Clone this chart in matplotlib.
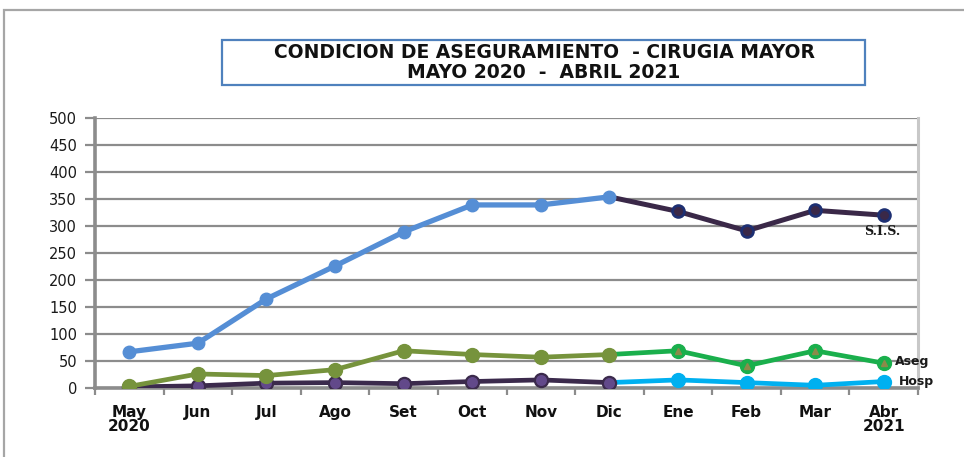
import matplotlib
matplotlib.use("Agg")
import matplotlib.pyplot as plt
from matplotlib.patches import Rectangle

# Monthly counts, May 2020 - Apr 2021
months = ["May\n2020", "Jun", "Jul", "Ago", "Set", "Oct", "Nov", "Dic",
          "Ene", "Feb", "Mar", "Abr\n2021"]
sis = [67, 83, 165, 226, 289, 339, 339, 354, 327, 291, 329, 320]
aseg = [3, 26, 23, 34, 69, 62, 57, 62, 69, 41, 69, 46]
hosp = [2, 4, 9, 10, 8, 12, 15, 10, 15, 10, 5, 12]
series_labels = ["S.I.S.", "Aseg", "Hosp"]
title_lines = ["CONDICION DE ASEGURAMIENTO  - CIRUGIA MAYOR", "MAYO 2020  -  ABRIL 2021"]
yticks = list(range(0, 501, 50))

W, H = 964, 457
fig = plt.figure(figsize=(W / 100, H / 100), dpi=100)
fig.patch.set_facecolor("white")

# outer chart frame
fig.add_artist(Rectangle((4 / W, -0.02), 1.1, 1 - 10 / H + 0.02, transform=fig.transFigure,
                         fill=False, edgecolor="#a6a6a6", linewidth=1.6))

ax = fig.add_axes([95 / W, 1 - 388 / H, (918 - 95) / W, (388 - 118) / H])
x = list(range(len(months)))
split = 7  # Dic: first-half series end here, second-half series start here

# second half (Dic - Abr): lines from Dic, markers from Ene
x2 = x[split:]
ax.plot(x2, sis[split:], color="#3a2848", lw=3.6, zorder=3, solid_capstyle="round")
ax.plot(x2[1:], sis[split + 1:], ls="none", marker="o", ms=8.5, mfc="#3a2848",
        mec="#1d2f72", mew=2, zorder=4)
ax.plot(x2, aseg[split:], color="#1aaf4c", lw=3.4, zorder=3, solid_capstyle="round")
ax.plot(x2[1:], aseg[split + 1:], ls="none", marker="o", ms=10, mfc="#1aaf4c",
        mec="#1aaf4c", zorder=4)
ax.plot(x2[1:], aseg[split + 1:], ls="none", marker="^", ms=4.5, mfc="#8c8a4a",
        mec="#8c8a4a", zorder=5)
ax.plot(x2, hosp[split:], color="#00b0f0", lw=3.4, zorder=3, solid_capstyle="round")
ax.plot(x2[1:], hosp[split + 1:], ls="none", marker="o", ms=10, mfc="#00b0f0",
        mec="#00b0f0", zorder=4)

# first half (May - Dic)
x1 = x[:split + 1]
ax.plot(x1, hosp[:split + 1], color="#3b2a4c", lw=3.4, marker="o", ms=9.5,
        mfc="#62498a", mec="#3b2a4c", mew=1.6, zorder=5)
ax.plot(x1, aseg[:split + 1], color="#76933c", lw=3.4, marker="o", ms=10,
        mfc="#76933c", mec="#76933c", zorder=6)
ax.plot(x1, sis[:split + 1], color="#558ed5", lw=3.8, marker="o", ms=9,
        mfc="#558ed5", mec="#558ed5", zorder=7)

ax.set_xlim(-0.5, len(months) - 0.5)
ax.set_ylim(0, 500)
ax.set_yticks(yticks)
ax.set_yticklabels([str(v) for v in yticks], fontsize=10.5, color="#1a1a1a")
ax.yaxis.grid(True, color="#8c8c8c", lw=1.6, zorder=0)
ax.set_axisbelow(True)

# category boundaries carry the tick marks, labels sit at category centres
ax.set_xticks([i - 0.5 for i in range(len(months) + 1)])
ax.set_xticklabels([])
ax.set_xticks(x, minor=True)
ax.set_xticklabels(months, minor=True, fontsize=11, fontweight="bold",
                   color="#111111", linespacing=0.95)
ax.tick_params(axis="x", which="major", length=5, width=1.6, color="#8c8c8c", direction="out")
ax.tick_params(axis="x", which="minor", length=0, pad=12)
ax.tick_params(axis="y", length=7, width=1.6, color="#8c8c8c", pad=6)

for side in ("left", "bottom"):
    ax.spines[side].set_color("#8c8c8c")
    ax.spines[side].set_linewidth(2.6)
ax.spines["right"].set_color("#c8c8c8")
ax.spines["right"].set_linewidth(2.2)
ax.spines["top"].set_visible(False)

# series labels next to the last point
ax.annotate(series_labels[0], (x[-1], sis[-1]), xytext=(-14, -12), textcoords="offset points",
            fontsize=9, fontweight="bold", family="DejaVu Serif", color="#1a1a1a",
            va="center")
ax.annotate(series_labels[1], (x[-1], aseg[-1]), xytext=(8, 1), textcoords="offset points",
            fontsize=9, fontweight="bold", color="#1a1a1a", va="center", annotation_clip=False)
ax.annotate(series_labels[2], (x[-1], hosp[-1]), xytext=(11, 0), textcoords="offset points",
            fontsize=9, fontweight="bold", color="#1a1a1a", va="center", annotation_clip=False)

# title box
fig.add_artist(Rectangle((222 / W, 1 - 85 / H), (865 - 222) / W, 45 / H,
                         transform=fig.transFigure, facecolor="white",
                         edgecolor="#4f81bd", linewidth=1.6))
fig.text(544 / W, 1 - 52 / H, title_lines[0], ha="center", va="center",
         fontsize=13.5, fontweight="bold", color="#111111")
fig.text(544 / W, 1 - 72 / H, title_lines[1], ha="center", va="center",
         fontsize=13.5, fontweight="bold", color="#111111")

fig.savefig("out.png", dpi=100)
